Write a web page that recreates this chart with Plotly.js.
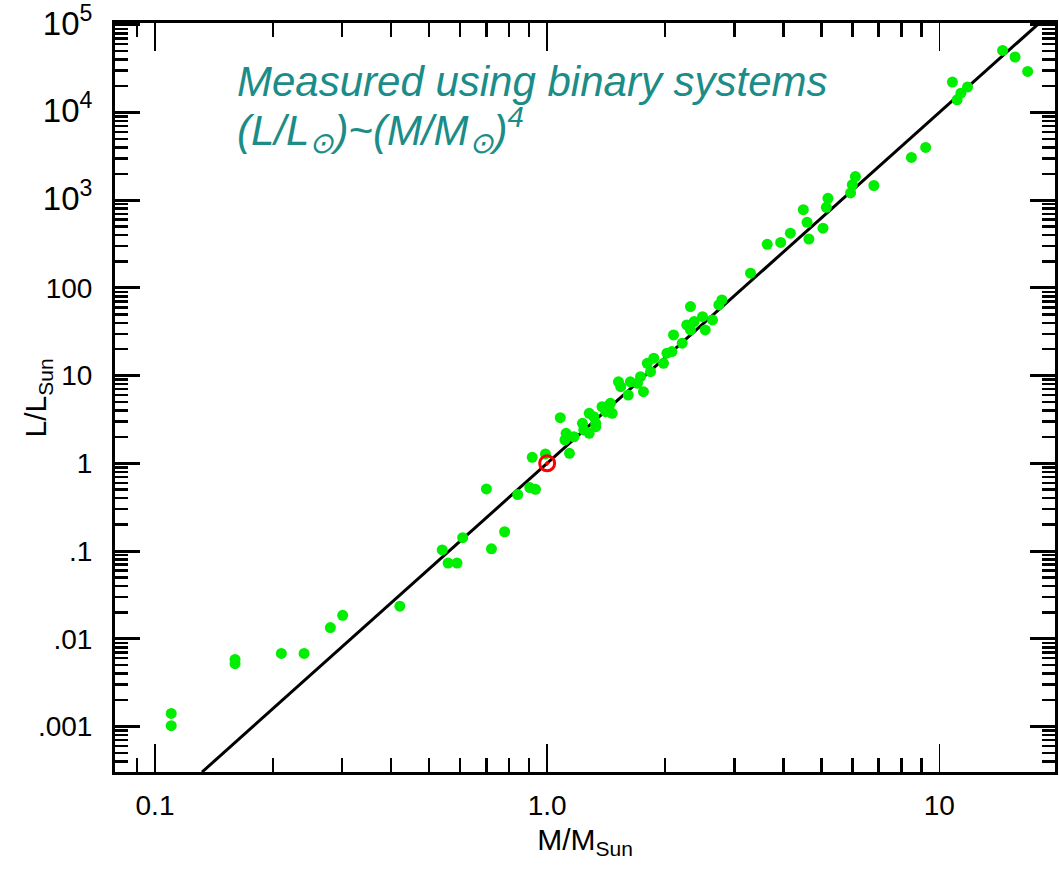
<!DOCTYPE html>
<html>
<head>
<meta charset="utf-8">
<script src="https://cdn.plot.ly/plotly-3.0.1.min.js"></script>
<style>html,body{margin:0;padding:0;background:#fff;}#chart{width:1059px;height:869px;}</style>
</head>
<body>
<div id="chart"></div>
<script>
// Measured binary-star masses (M/Msun) and luminosities (L/Lsun)
const starMass = [
  0.110, 0.110, 0.160, 0.160, 0.210, 0.240, 0.280, 0.301, 0.421, 0.540,
  0.559, 0.589, 0.609, 0.700, 0.721, 0.779, 0.841, 0.903, 0.934, 0.916,
  0.990, 1.08, 1.118, 1.11, 1.14, 1.17, 1.23, 1.28, 1.28, 1.33,
  1.315, 1.44, 1.41, 1.465, 1.54, 1.61, 1.70, 1.76, 1.52, 1.63,
  1.73, 1.80, 1.87, 1.835, 1.98, 2.02, 2.08, 2.10, 2.21, 2.27,
  2.32, 2.32, 2.37, 2.49, 2.53, 2.64, 2.74, 2.79, 3.30, 3.64,
  3.94, 4.17, 4.50, 4.60, 4.65, 5.05, 5.20, 5.15, 5.94, 6.00,
  6.11, 6.81, 8.49, 9.23, 10.8, 11.1, 11.35, 11.8, 14.5, 15.6,
  16.8, 1.38, 1.45, 1.33, 1.24
];
const starLum = [
  0.00141, 0.00102, 0.0058, 0.0052, 0.0068, 0.0068, 0.0134, 0.0185, 0.0235, 0.103,
  0.073, 0.073, 0.142, 0.51, 0.106, 0.166, 0.44, 0.53, 0.505, 1.17,
  1.28, 3.31, 2.2, 1.85, 1.30, 2.01, 2.86, 3.72, 2.2, 2.62,
  3.4, 4.62, 3.88, 3.72, 7.48, 6.0, 8.18, 6.56, 8.5, 8.5,
  9.73, 13.8, 15.8, 11.1, 13.8, 18.0, 18.8, 29.1, 23.4, 37.8,
  33.2, 61.2, 41.3, 47, 33.2, 43.1, 64, 73, 147, 314,
  330, 420, 780, 560, 360, 480, 1050, 830, 1210, 1500,
  1860, 1470, 3070, 3990, 22200, 13950, 16600, 19500, 50900, 42900,
  29400, 4.43, 4.83, 2.86, 2.40
];
// Sun
const sunMass = [1.0];
const sunLum = [1.0];
// Mass-luminosity relation L ~ M^4 (end points of drawn line)
const relMass = [0.1318, 17.78];
const relLum = [0.000302, 99900];

// Tick labels
const xTickVals = [0.1, 1, 10];
const xTickText = ['0.1', '1.0', '10'];
const yTickVals = [1e-3, 1e-2, 1e-1, 1, 10, 100, 1e3, 1e4, 1e5];
const yTickText = ['.001', '.01', '.1', '1', '10', '100',
  '<span style="font-size:33px">10<sup>3</sup></span>',
  '<span style="font-size:33px">10<sup>4</sup></span>',
  '<span style="font-size:33px">10<sup>5</sup></span>'];

// Text
const noteLine1 = '<i>Measured using binary systems</i>';
const noteLine2 = '<i>(L/L<sub>⊙</sub>)~(M/M<sub>⊙</sub>)<sup>4</sup></i>';
const xTitle = 'M/M<sub>Sun</sub>';
const yTitle = 'L/L<sub>Sun</sub>';

// minor tick positions (digits 2..9 of each decade)
function digitTicks(lo, hi) {
  const out = [];
  for (let e = -5; e <= 5; e++) {
    for (let d = 2; d <= 9; d++) {
      const v = d * Math.pow(10, e);
      if (v > lo && v < hi) out.push(v);
    }
  }
  return out;
}
const xMinor = digitTicks(0.085, 9.5);
const yMinor = digitTicks(0.0003, 99000);

const FAM = 'Liberation Sans, Arial, Helvetica, sans-serif';
const tickFont = {family: FAM, size: 28, color: '#000'};

const traces = [
  {
    x: relMass, y: relLum, type: 'scatter', mode: 'lines',
    line: {color: '#000', width: 3}, hoverinfo: 'skip', showlegend: false
  },
  {
    x: starMass, y: starLum, type: 'scatter', mode: 'markers',
    marker: {color: '#00ee00', size: 11, line: {width: 0}}, showlegend: false
  },
  {
    x: sunMass, y: sunLum, type: 'scatter', mode: 'markers',
    marker: {symbol: 'circle-open-dot', color: '#ff0000', size: 15, line: {width: 3, color: '#ff0000'}},
    showlegend: false
  }
];

const layout = {
  width: 1059, height: 869,
  margin: {l: 115, r: 4, t: 23, b: 97},
  paper_bgcolor: '#fff', plot_bgcolor: '#fff',
  showlegend: false,
  xaxis: {
    type: 'log', range: [-1.102, 1.295],
    showgrid: false, zeroline: false,
    showline: true, linecolor: '#000', linewidth: 3, mirror: 'allticks',
    ticks: 'inside', ticklen: 28, tickwidth: 1.5, tickcolor: '#000',
    tickmode: 'array', tickvals: xTickVals, ticktext: xTickText,
    tickfont: tickFont, ticklabelstandoff: 6,
    minor: {tickmode: 'array', tickvals: xMinor, ticks: 'inside', ticklen: 14, tickwidth: 2.5, tickcolor: '#000', showgrid: false},
    title: {text: xTitle, font: {family: FAM, size: 30, color: '#000'}, standoff: 10}
  },
  yaxis: {
    type: 'log', range: [-3.519, 5.02],
    showgrid: false, zeroline: false,
    showline: true, linecolor: '#000', linewidth: 3, mirror: 'allticks',
    ticks: 'inside', ticklen: 25, tickwidth: 3, tickcolor: '#000',
    tickmode: 'array', tickvals: yTickVals, ticktext: yTickText,
    tickfont: tickFont, ticklabelstandoff: 14, ticklabeloverflow: 'allow',
    minor: {tickmode: 'array', tickvals: yMinor, ticks: 'inside', ticklen: 13, tickwidth: 2.5, tickcolor: '#000', showgrid: false}
  },
  annotations: [
    {
      xref: 'paper', yref: 'paper', x: 0.128, y: 0.922, xanchor: 'left', yanchor: 'middle',
      align: 'left', showarrow: false, text: noteLine1,
      font: {family: FAM, size: 42, color: '#1b8c88'}
    },
    {
      xref: 'paper', yref: 'paper', x: 0.128, y: 0.858, xanchor: 'left', yanchor: 'middle',
      align: 'left', showarrow: false, text: noteLine2,
      font: {family: FAM, size: 42, color: '#1b8c88'}
    },
    {
      xref: 'paper', yref: 'paper', x: -0.082, y: 0.5, xanchor: 'center', yanchor: 'middle',
      textangle: -90, showarrow: false, text: yTitle,
      font: {family: FAM, size: 30, color: '#000'}
    }
  ]
};

Plotly.newPlot('chart', traces, layout, {displayModeBar: false, staticPlot: true});
</script>
</body>
</html>
